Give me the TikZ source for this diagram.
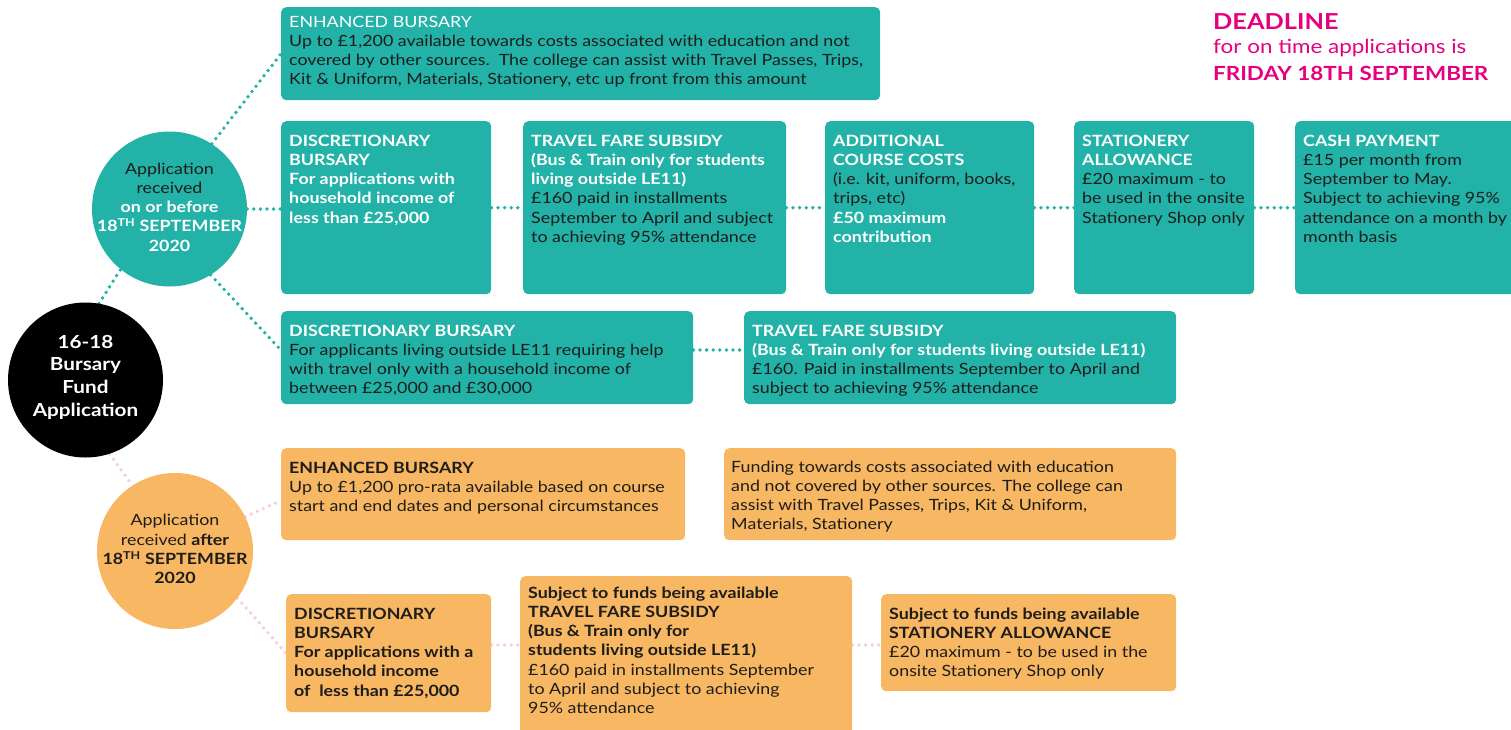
\documentclass[tikz,border=0pt]{standalone}
\usepackage{fontspec}
\setmainfont{Lato}[FakeStretch=1.15]
\usetikzlibrary{calc}
\definecolor{cteal}{RGB}{34,178,168}
\definecolor{corange}{RGB}{248,183,98}
\definecolor{cpink}{RGB}{229,0,125}
\definecolor{cpinkdot}{RGB}{246,204,224}
\definecolor{cdark}{RGB}{29,29,27}
\pgfdeclarelayer{bg}
\pgfsetlayers{bg,main}
\newcommand\fs{\fontsize{15.5}{19.3}\selectfont}
\newcommand\W[1]{\textcolor{white}{\bfseries #1}}
\newcommand\B[1]{{\bfseries #1}}
\newcommand\txt[1]{\parbox[t]{700pt}{\raggedright\fs #1}}
\tikzset{
  tbox/.style={fill=cteal, rounded corners=5pt, inner sep=0pt, anchor=north west},
  obox/.style={fill=corange, rounded corners=5pt, inner sep=0pt, anchor=north west},
  btxt/.style={anchor=base west, inner sep=0pt, text=cdark},
  ctxt/.style={inner sep=0pt, align=center, text=cdark, font=\fs},
  tdots/.style={draw=cteal, line width=3.8pt, line cap=round, dash pattern=on 0pt off 6.6pt},
  pdots/.style={draw=cpinkdot, line width=3.8pt, line cap=round, dash pattern=on 0pt off 6.6pt},
}
\begin{document}
\begin{tikzpicture}[x=1pt,y=-1pt]
\useasboundingbox (0,0) rectangle (1511,729);

% circles
\node[circle, fill=cteal, minimum size=155pt, inner sep=0pt] (tc) at (169.5,209) {};
\node[ctxt] (tct) at (169.5,207) {Application\\received\\\W{on or before}\\\W{18\textsuperscript{TH} SEPTEMBER}\\\W{2020}};
\node[circle, fill=black, minimum size=155pt, inner sep=0pt] (bc) at (85.5,380) {};
\node[inner sep=0pt, align=center, text=white, font=\fontsize{18}{22.7}\selectfont\bfseries] (bct) at (85.5,377) {16-18\\Bursary\\Fund\\Application};
\node[circle, fill=corange, minimum size=156pt, inner sep=0pt] (oc) at (175,551) {};
\node[ctxt] (oct) at (175,549) {Application\\received \B{after}\\\B{18\textsuperscript{TH} SEPTEMBER}\\\B{2020}};

% teal boxes
\node[tbox, minimum width=599pt, minimum height=93pt] (b1) at (281,7) {};
\node[btxt] (b1t) at (289,27) {\txt{\textcolor{white}{ENHANCED BURSARY}\\Up to £1,200 available towards costs associated with education and not\\covered by other sources.\ \ The college can assist with Travel Passes, Trips,\\Kit \& Uniform, Materials, Stationery, etc up front from this amount}};

\node[tbox, minimum width=210pt, minimum height=173pt] (b2) at (281,121) {};
\node[btxt] (b2t) at (289,146) {\txt{\W{DISCRETIONARY}\\\W{BURSARY}\\\W{For applications with}\\\W{household income of}\\\W{less than £25,000}}};

\node[tbox, minimum width=263pt, minimum height=173pt] (b3) at (523,121) {};
\node[btxt] (b3t) at (531,146) {\txt{\W{TRAVEL FARE SUBSIDY}\\\W{(Bus \& Train only for students}\\\W{living outside LE11)}\\£160 paid in installments\\September to April and subject\\to achieving 95\% attendance}};

\node[tbox, minimum width=209pt, minimum height=173pt] (b4) at (825,121) {};
\node[btxt] (b4t) at (833,146) {\txt{\W{ADDITIONAL}\\\W{COURSE COSTS}\\(i.e. kit, uniform, books,\\trips, etc)\\\W{£50 maximum}\\\W{contribution}}};

\node[tbox, minimum width=180pt, minimum height=173pt] (b5) at (1074,121) {};
\node[btxt] (b5t) at (1082,146) {\txt{\W{STATIONERY}\\\W{ALLOWANCE}\\£20 maximum - to\\be used in the onsite\\Stationery Shop only}};

\node[tbox, minimum width=230pt, minimum height=173pt] (b6) at (1295,121) {};
\node[btxt] (b6t) at (1303,146) {\txt{\W{CASH PAYMENT}\\£15 per month from\\September to May.\\Subject to achieving 95\%\\attendance on a month by\\month basis}};

\node[tbox, minimum width=412pt, minimum height=93pt] (b7) at (281,311) {};
\node[btxt] (b7t) at (289,336) {\txt{\W{DISCRETIONARY BURSARY}\\For applicants living outside LE11 requiring help\\with travel only with a household income of\\between £25,000 and £30,000}};

\node[tbox, minimum width=432pt, minimum height=93pt] (b8) at (744,311) {};
\node[btxt] (b8t) at (752,336) {\txt{\W{TRAVEL FARE SUBSIDY}\\\W{(Bus \& Train only for students living outside LE11)}\\£160. Paid in installments September to April and\\subject to achieving 95\% attendance}};

% orange boxes
\node[obox, minimum width=404pt, minimum height=92pt] (b9) at (281,448) {};
\node[btxt] (b9t) at (289,473) {\txt{\B{ENHANCED BURSARY}\\Up to £1,200 pro-rata available based on course\\start and end dates and personal circumstances}};

\node[obox, minimum width=452pt, minimum height=92pt] (b10) at (724,448) {};
\node[btxt] (b10t) at (731,472) {\txt{Funding towards costs associated with education\\and not covered by other sources. The college can\\assist with Travel Passes, Trips, Kit \& Uniform,\\Materials, Stationery}};

\node[obox, minimum width=205pt, minimum height=118pt] (b11) at (286,594) {};
\node[btxt] (b11t) at (294,619) {\txt{\B{DISCRETIONARY}\\\B{BURSARY}\\\B{For applications with a}\\\B{household income}\\\B{of\ \ less than £25,000}}};

\node[obox, minimum width=332pt, minimum height=165pt] (b12) at (520,576) {};
\node[btxt] (b12t) at (528,598) {\txt{\B{Subject to funds being available}\\\B{TRAVEL FARE SUBSIDY}\\\B{(Bus \& Train only for}\\\B{students living outside LE11)}\\£160 paid in installments September\\to April and subject to achieving\\95\% attendance}};

\node[obox, minimum width=295pt, minimum height=97pt] (b13) at (881,594) {};
\node[btxt] (b13t) at (889,619) {\txt{\B{Subject to funds being available}\\\B{STATIONERY ALLOWANCE}\\£20 maximum - to be used in the\\onsite Stationery Shop only}};

% deadline
\node[anchor=base west, inner sep=0pt, text=cpink, font=\fontsize{22}{26}\selectfont\bfseries] (dl1) at (1213,29) {DEADLINE};
\node[anchor=base west, inner sep=0pt, text=cpink, font=\fontsize{19.5}{24}\selectfont] (dl2) at (1213,53) {for on time applications is};
\node[anchor=base west, inner sep=0pt, text=cpink, font=\fontsize{19.5}{24}\selectfont\bfseries] (dl3) at (1213,80) {FRIDAY 18TH SEPTEMBER};

% connectors
\coordinate (r1) at (0,350);
\coordinate (r2) at (0,645);
\begin{pgfonlayer}{bg}
\draw[tdots] (tc.57) -- (b1.west);
\draw[tdots] (tc.east) -- (tc.east -| b2.west);
\draw[tdots] (tc.-58) -- ($(b7.north west)!0.42!(b7.south west)$);
\draw[tdots] (bc.80) -- (tc.231);
\draw[tdots] (b2.east) -- (b3.west);
\draw[tdots] (b3.east) -- (b4.west);
\draw[tdots] (b4.east) -- (b5.west);
\draw[tdots] (b5.east) -- (b6.west);
\draw[tdots] (b7.east |- r1) -- (b8.west |- r1);
\draw[pdots] (bc.-72) -- (oc.123);
\draw[pdots] (oc.26) -- ($(b9.north west)!0.57!(b9.south west)$);
\draw[pdots] (oc.-37) -- (b11.west);
\draw[pdots] (b11.east |- r2) -- (b12.west |- r2);
\draw[pdots] (b12.east |- r2) -- (b13.west |- r2);
\end{pgfonlayer}
\end{tikzpicture}
\end{document}
